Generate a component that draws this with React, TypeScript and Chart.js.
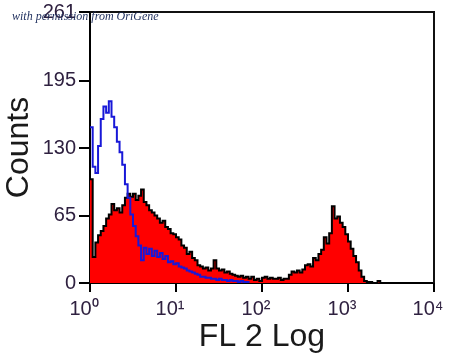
import React, { useEffect, useRef } from 'react';
import { Chart, registerables } from 'chart.js';

Chart.register(...registerables);

// Channel positions of the decade ticks (32 channels per decade, 128 channels total)
const channelTicks = [0, 32, 64, 96, 128];
const xTickLabels = ['10⁰', '10¹', '10²', '10³', '10⁴'];
const yTicks = [0, 65, 130, 195, 261];

const xTitle = 'FL 2 Log';
const yTitle = 'Counts';
const watermark = 'with permission from OriGene';

// Stained sample (red filled histogram), counts per channel
const stainedCounts = [
  100, 25, 39, 46, 50, 55, 62, 66, 76, 70, 72, 68, 75, 82, 86, 83,
  86, 80, 84, 90, 78, 75, 70, 68, 65, 62, 58, 60, 54, 52, 48, 47,
  44, 42, 36, 34, 28, 30, 24, 22, 17, 16, 14, 15, 12, 14, 22, 14,
  12, 13, 10, 11, 9, 8, 7, 6, 7, 5, 6, 4, 6, 3, 4, 2,
  5, 6, 4, 5, 4, 4, 5, 3, 4, 4, 8, 11, 10, 12, 10, 13,
  17, 18, 16, 24, 22, 28, 32, 44, 38, 48, 74, 62, 64, 58, 54, 47,
  40, 33, 26, 20, 12, 6, 2, 1, 1, 0, 0, 2, 0, 0, 0, 0,
  0, 0, 0, 0, 0, 0, 0, 0, 0, 0, 0, 0, 0, 0, 0, 0,
  0,
];

// Isotype control (blue line), counts per channel
const controlCounts = [
  150, 112, 106, 132, 158, 170, 164, 175, 160, 150, 136, 126, 114, 95, 82, 66,
  55, 45, 36, 22, 34, 28, 33, 26, 31, 25, 29, 23, 26, 20, 21, 18,
  19, 16, 15, 14, 12, 11, 10, 9, 8, 6, 6, 5, 5, 4, 4, 3,
  4, 3, 3, 2, 3, 2, 2, 1, 2, 1, 1, 0,
];

const FONT = '"Liberation Sans", Arial, Helvetica, sans-serif';

const framePlugin = {
  id: 'frameAndNote',
  afterDraw(chart: any) {
    const { ctx, chartArea } = chart;
    const { left, top, right, bottom } = chartArea;
    ctx.save();
    ctx.strokeStyle = '#111';
    ctx.lineWidth = 2;
    ctx.beginPath();
    ctx.moveTo(left, top);
    ctx.lineTo(right, top);
    ctx.lineTo(right, bottom);
    ctx.stroke();
    ctx.font = 'italic 12px "Liberation Serif", "DejaVu Serif", serif';
    ctx.fillStyle = '#1d2d5c';
    ctx.textBaseline = 'alphabetic';
    ctx.textAlign = 'left';
    ctx.fillText(watermark, 12, 20);
    ctx.restore();
  },
};

export default function App() {
  const canvasRef = useRef<HTMLCanvasElement | null>(null);

  useEffect(() => {
    const canvas = canvasRef.current;
    if (!canvas) return;
    const chart = new Chart(canvas, {
      type: 'line',
      data: {
        datasets: [
          {
            label: 'Control',
            data: controlCounts.map((c, i) => ({ x: i, y: c })),
            borderColor: '#1818d8',
            borderWidth: 2,
            fill: false,
            stepped: true,
            pointRadius: 0,
            order: 0,
          },
          {
            label: 'Stained',
            data: stainedCounts.map((c, i) => ({ x: i, y: c })),
            borderColor: '#000000',
            backgroundColor: '#ff0000',
            borderWidth: 2,
            fill: 'origin',
            stepped: true,
            pointRadius: 0,
            order: 1,
          },
        ],
      },
      options: {
        animation: false,
        responsive: false,
        devicePixelRatio: 1,
        layout: { padding: { top: 12, right: 16, left: 0, bottom: 0 } },
        plugins: { legend: { display: false }, tooltip: { enabled: false } },
        scales: {
          x: {
            type: 'linear',
            min: channelTicks[0],
            max: channelTicks[channelTicks.length - 1],
            afterBuildTicks: (s: any) => {
              s.ticks = channelTicks.map((v) => ({ value: v }));
            },
            afterFit: (s: any) => {
              s.height = 73;
              s.paddingLeft = 0;
              s.paddingRight = 0;
            },
            ticks: {
              autoSkip: false,
              maxRotation: 0,
              padding: 5,
              labelOffset: -6,
              color: '#2f2140',
              font: { family: FONT, size: 20 },
              callback: (v: any) => xTickLabels[channelTicks.indexOf(Number(v))],
            },
            grid: {
              drawOnChartArea: false,
              drawTicks: true,
              tickLength: 9,
              color: '#000',
              lineWidth: 2,
            },
            border: { display: true, color: '#000', width: 2 },
            title: {
              display: true,
              text: xTitle,
              color: '#1a1a1a',
              font: { family: FONT, size: 32 },
              padding: { top: 0, bottom: 0 },
            },
          },
          y: {
            type: 'linear',
            min: yTicks[0],
            max: yTicks[yTicks.length - 1],
            afterBuildTicks: (s: any) => {
              s.ticks = yTicks.map((v) => ({ value: v }));
            },
            afterFit: (s: any) => {
              s.width = 90;
              s.paddingTop = 0;
              s.paddingBottom = 0;
            },
            ticks: {
              autoSkip: false,
              padding: 3,
              color: '#2f2140',
              font: { family: FONT, size: 20 },
              callback: (v: any) => String(v),
            },
            grid: {
              drawOnChartArea: false,
              drawTicks: true,
              tickLength: 11,
              color: '#000',
              lineWidth: 2,
            },
            border: { display: true, color: '#000', width: 2 },
            title: {
              display: true,
              text: yTitle,
              color: '#1a1a1a',
              font: { family: FONT, size: 32 },
              padding: { top: 0, bottom: 0 },
            },
          },
        },
      },
      plugins: [framePlugin],
    } as any);
    return () => chart.destroy();
  }, []);

  return (
    <div style={{ position: 'fixed', left: 0, top: 0, width: 450, height: 356, background: '#fff' }}>
      <canvas ref={canvasRef} width={450} height={356} style={{ width: 450, height: 356, display: 'block' }} />
    </div>
  );
}
